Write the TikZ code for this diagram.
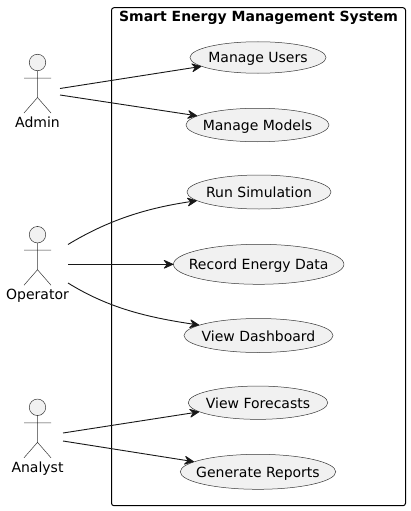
\documentclass[tikz,border=0pt]{standalone}
\usepackage{fontspec}
\setmainfont{DejaVu Sans}
\usetikzlibrary{shapes.geometric,arrows.meta,bending}
\definecolor{ucfill}{HTML}{F1F1F1}
\definecolor{ucline}{HTML}{181818}
\definecolor{thinline}{HTML}{383838}
\tikzset{
  usecase/.style={ellipse,draw=thinline,line width=0.5pt,fill=ucfill,inner sep=0pt,
    text=black,font=\fontsize{14}{16}\selectfont,text height=12.3pt,text depth=1.3pt},
  actorhead/.style={circle,draw=thinline,line width=0.5pt,fill=ucfill,inner sep=0pt,minimum size=16.5pt},
  actorline/.style={draw=thinline,line width=0.5pt},
  actorname/.style={anchor=base,inner sep=0pt,font=\fontsize{14}{16}\selectfont,text=black},
  link/.style={draw=ucline,line width=0.9pt,-{Stealth[length=11pt,width=10pt,inset=4pt,round,bend]}},
  sysbox/.style={draw=black,line width=1pt,rounded corners=2.5pt},
  systitle/.style={anchor=base,inner sep=0pt,font=\fontsize{14}{16}\selectfont\bfseries,text=black}
}
\newcommand{\uctext}[1]{\makebox[0pt]{#1}}
\newcommand{\actorfig}[4]{% name, x, head y, label
  \node[actorhead] (#1) at (#2,#3) {};
  \coordinate (#1arml) at ({#2-13.5},{#3+15.5});
  \coordinate (#1armr) at ({#2+13.5},{#3+15.5});
  \coordinate (#1hip) at (#2,{#3+35});
  \coordinate (#1footl) at ({#2-13.5},{#3+50.5});
  \coordinate (#1footr) at ({#2+13.5},{#3+50.5});
  \draw[actorline] (#1.south) -- (#1hip) (#1arml) -- (#1armr) (#1footl) -- (#1hip) -- (#1footr);
  \node[actorname] (#1label) at (#2,{#3+64.7}) {#4};
}
\begin{document}
\begin{tikzpicture}[x=1pt,y=-1pt]
\useasboundingbox[fill=white] (0,0) rectangle (410,511);
\node[sysbox,minimum width=294pt,minimum height=498pt,inner sep=0pt] (sys) at (258.5,256.7) {};
\node[systitle] (title) at (258.5,22) {Smart Energy Management System};
\node[usecase,minimum width=136pt,minimum height=31.5pt] (mu) at (258,57.5) {\uctext{Manage Users}};
\node[usecase,minimum width=143pt,minimum height=33.5pt] (mm) at (257.5,125) {\uctext{Manage Models}};
\node[usecase,minimum width=144pt,minimum height=34pt] (rs) at (259,192) {\uctext{Run Simulation}};
\node[usecase,minimum width=170.5pt,minimum height=40pt] (re) at (258.7,264.3) {\uctext{Record Energy Data}};
\node[usecase,minimum width=149pt,minimum height=34pt] (vd) at (258.5,335.5) {\uctext{View Dashboard}};
\node[usecase,minimum width=139.5pt,minimum height=33.3pt] (vf) at (258,402.7) {\uctext{View Forecasts}};
\node[usecase,minimum width=155.5pt,minimum height=35pt] (gr) at (258,471.8) {\uctext{Generate Reports}};
\actorfig{admin}{37.5}{62.5}{Admin}
\actorfig{oper}{37.5}{234.7}{Operator}
\actorfig{anal}{37.5}{407.3}{Analyst}
\coordinate (a1) at (60,88.5);
\coordinate (a2) at (60,95);
\coordinate (o1) at (68,244.5);
\coordinate (o2) at (68,264.3);
\coordinate (o3) at (68,283);
\coordinate (n1) at (63,433);
\coordinate (n2) at (63,441);
\draw[link] (a1) -- (mu);
\draw[link] (a2) -- (mm);
\draw[link] (o1) .. controls (110,219) and (150,207) .. (rs.188);
\draw[link] (o2) -- (re);
\draw[link] (o3) .. controls (110,309) and (150,318) .. (vd.170);
\draw[link] (n1) -- (vf);
\draw[link] (n2) -- (gr);
\end{tikzpicture}
\end{document}
